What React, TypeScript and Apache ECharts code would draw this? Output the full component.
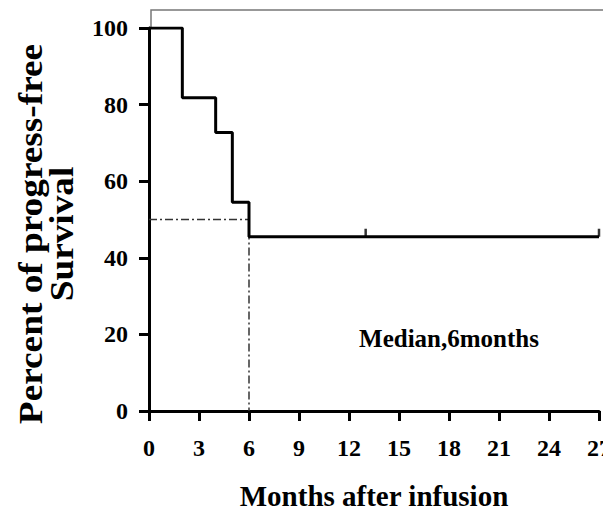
import React, { useEffect, useRef } from "react";
import * as echarts from "echarts";

const months = [0, 2, 4, 5, 6, 27];
const survival = [100, 81.8, 72.7, 54.5, 45.5, 45.5];
const censorMonths = [13, 27];
const censorSurvival = [45.5, 45.5];
const medianX = [0, 6, 6];
const medianY = [50, 50, 0];
const annotation = "Median,6months";
const annotationPos = [18, 19];
const xTitle = "Months after infusion";
const yTitle = "Percent of progress-free\nSurvival";

const FONT = "'Liberation Serif', 'Times New Roman', serif";

export default function App() {
  const ref = useRef<HTMLDivElement>(null);
  useEffect(() => {
    if (!ref.current) return;
    const chart = echarts.init(ref.current, null, { renderer: "svg" });
    chart.setOption({
      animation: false,
      backgroundColor: "#fff",
      grid: {
        left: 149,
        right: 4,
        top: 28,
        bottom: 101,
        containLabel: false,
        outerBoundsMode: "none",
      },
      xAxis: {
        type: "value",
        min: 0,
        max: 27,
        interval: 3,
        name: xTitle,
        nameLocation: "middle",
        nameGap: 70,
        nameTextStyle: { fontFamily: FONT, fontWeight: "bold", fontSize: 29, color: "#000" },
        axisLine: { show: true, onZero: false, lineStyle: { color: "#000", width: 3 } },
        axisTick: { show: true, length: 10, lineStyle: { color: "#000", width: 3 } },
        axisLabel: { margin: 25, fontFamily: FONT, fontWeight: "bold", fontSize: 24, color: "#000" },
        splitLine: { show: false },
      },
      yAxis: {
        type: "value",
        min: 0,
        max: 100,
        interval: 20,
        axisLine: { show: true, lineStyle: { color: "#000", width: 3 } },
        axisTick: { show: true, length: 10, lineStyle: { color: "#000", width: 3 } },
        axisLabel: { margin: 21, fontFamily: FONT, fontWeight: "bold", fontSize: 24, color: "#000" },
        splitLine: { show: false },
      },
      series: [
        {
          type: "line",
          step: "end",
          data: months.map((m, i) => [m, survival[i]]),
          showSymbol: false,
          symbol: "none",
          lineStyle: { color: "#000", width: 3 },
          z: 5,
        },
        {
          type: "scatter",
          data: censorMonths.map((m, i) => [m, censorSurvival[i]]),
          symbol: "rect",
          symbolSize: [2.5, 8],
          symbolOffset: [0, -4],
          itemStyle: { color: "#000" },
          z: 6,
        },
        {
          type: "line",
          data: medianX.map((m, i) => [m, medianY[i]]),
          showSymbol: false,
          symbol: "none",
          lineStyle: { color: "#333", width: 1.5, type: [8, 3, 2, 3] },
          z: 4,
        },
      ],
    });
    const p = chart.convertToPixel({ gridIndex: 0 }, annotationPos) as number[];
    const origin = chart.convertToPixel({ gridIndex: 0 }, [0, 100]) as number[];
    chart.setOption({
      graphic: [
        {
          type: "polyline",
          shape: { points: [[origin[0] + 2, origin[1]], [origin[0] + 2, 10], [603, 10]] },
          style: { stroke: "#777", lineWidth: 1.5, fill: null },
          z: 1,
        },
        {
          type: "text",
          x: p[0],
          y: p[1],
          style: {
            text: annotation,
            fontFamily: FONT,
            fontWeight: "bold",
            fontSize: 25,
            fill: "#000",
            align: "center",
            verticalAlign: "middle",
          },
        },
        {
          type: "text",
          x: 47,
          y: 234,
          rotation: Math.PI / 2,
          scaleX: 1.13,
          style: {
            text: yTitle,
            fontFamily: FONT,
            fontWeight: "bold",
            fontSize: 33,
            lineHeight: 31,
            fill: "#000",
            align: "center",
            verticalAlign: "middle",
          },
        },
      ],
    });
    return () => chart.dispose();
  }, []);
  return (
    <div
      ref={ref}
      style={{ position: "fixed", left: 0, top: 0, width: 603, height: 512, background: "#fff" }}
    />
  );
}
